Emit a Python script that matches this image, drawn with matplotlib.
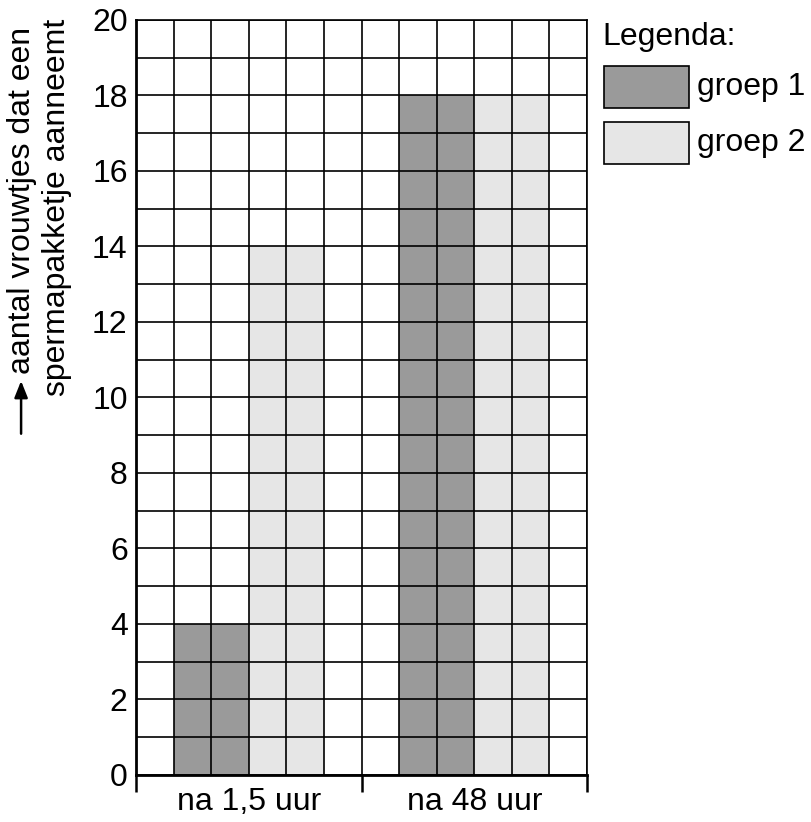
import matplotlib.pyplot as plt
from matplotlib.patches import Rectangle, FancyArrowPatch

plt.rcParams["font.family"] = ["Liberation Sans", "DejaVu Sans"]

categories = ["na 1,5 uur", "na 48 uur"]
groep1 = [4, 18]
groep2 = [14, 18]
labels = ["groep 1", "groep 2"]
yticks = list(range(0, 21, 2))

c1 = "#9a9a9a"
c2 = "#e6e6e6"
fs = 23

fig = plt.figure(figsize=(8.11, 8.22), dpi=100)
ax = fig.add_axes([0.1677, 0.0572, 0.5561, 0.9185])

# each category takes 6 grid columns, bars 2 columns wide
for i in range(len(categories)):
    base = i * 6
    ax.bar(base + 1, groep1[i], width=2, align="edge", color=c1, zorder=1)
    ax.bar(base + 3, groep2[i], width=2, align="edge", color=c2, zorder=1)

for x in range(13):
    ax.axvline(x, color="black", lw=1.2, zorder=2)
for y in range(21):
    ax.axhline(y, color="black", lw=1.2, zorder=2)

ax.set_xlim(0, 12)
ax.set_ylim(0, 20)
ax.set_yticks(yticks)
ax.tick_params(axis="y", length=0, labelsize=fs, pad=6)
ax.set_xticks([0, 6, 12])
ax.set_xticklabels([])
ax.tick_params(axis="x", length=12, width=1.8, direction="out")
ax.set_xticks([3, 9], minor=True)
ax.set_xticklabels(categories, minor=True, fontsize=fs)
ax.tick_params(axis="x", which="minor", length=0, pad=9)
for s in ax.spines.values():
    s.set_linewidth(1.2)
ax.spines["bottom"].set_linewidth(2)
ax.spines["left"].set_linewidth(2)

# y label in two lines with arrow
fig.text(0.027, 0.545, "aantal vrouwtjes dat een", rotation=90, fontsize=fs,
         ha="center", va="bottom")
fig.text(0.070, 0.518, "spermapakketje aanneemt", rotation=90, fontsize=fs,
         ha="center", va="bottom")
fig.add_artist(FancyArrowPatch(
    (0.026, 0.469), (0.026, 0.540), transform=fig.transFigure,
    arrowstyle="-|>,head_length=10,head_width=4", color="black", lw=1.8,
    mutation_scale=1))

# legend
fig.text(0.743, 0.955, "Legenda:", fontsize=fs, ha="left", va="center")
for k, (lab, col) in enumerate(zip(labels, [c1, c2])):
    y0 = 1 - (108 + k * 56) / 822
    fig.add_artist(Rectangle((604 / 811, y0), 85 / 811, 42 / 822,
                             transform=fig.transFigure, facecolor=col,
                             edgecolor="black", lw=1.2))
    fig.text(697 / 811, y0 + 21 / 822, lab, fontsize=fs, ha="left", va="center")

fig.savefig("out.png", dpi=100)
